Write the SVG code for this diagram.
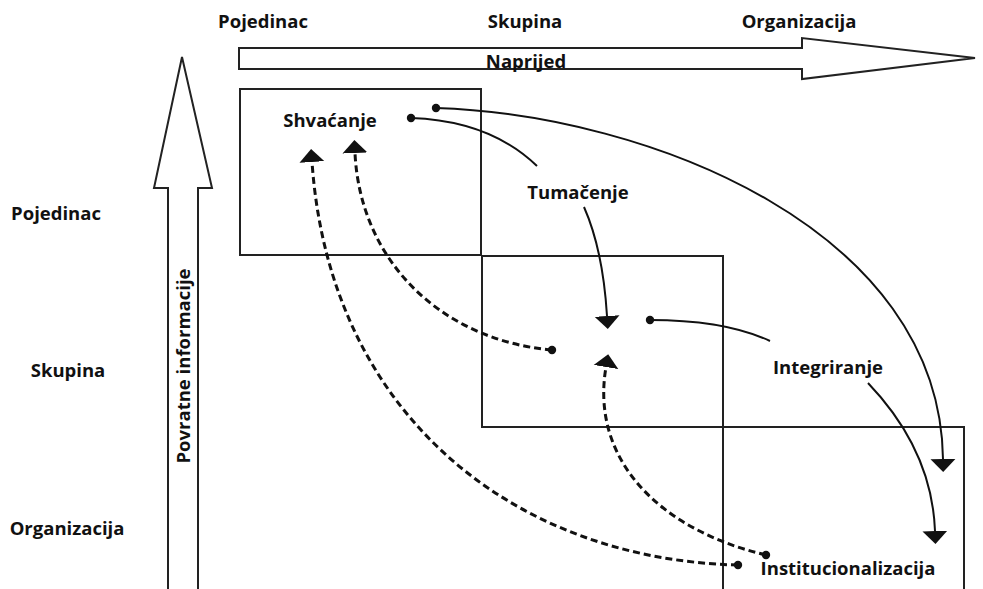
<svg xmlns="http://www.w3.org/2000/svg" width="983" height="589" viewBox="0 0 983 589">
<style>
text{font-family:"Open Sans","Liberation Sans",sans-serif;font-weight:bold;font-size:18.5px;fill:#111}
.box{fill:none;stroke:#222;stroke-width:2}
.big{fill:#fff;stroke:#222;stroke-width:2;stroke-linejoin:miter}
.solid{fill:none;stroke:#111;stroke-width:2}
.dash{fill:none;stroke:#111;stroke-width:3;stroke-dasharray:7 4}
</style>
<defs>
<marker id="arrow" markerUnits="userSpaceOnUse" viewBox="0 -13 14 26" markerWidth="14" markerHeight="26" refX="0" refY="0" orient="auto">
<path d="M0,-12.5 L13,0 L0,12.5 z" fill="#111"/>
</marker>
<marker id="dot" markerUnits="userSpaceOnUse" viewBox="-5 -5 10 10" markerWidth="10" markerHeight="10" refX="0" refY="0">
<circle r="4.2" fill="#111"/>
</marker>
</defs>
<rect width="983" height="589" fill="#fff"/>
<g id="axis-top">
<polygon class="big" points="239,48 802,48 802,38 975,58 802,79 802,69 239,69"/>
<text x="526" y="68" text-anchor="middle">Naprijed</text>
<text x="263" y="28" text-anchor="middle">Pojedinac</text>
<text x="525" y="28" text-anchor="middle">Skupina</text>
<text x="799" y="28" text-anchor="middle">Organizacija</text>
</g>
<g id="axis-left">
<polygon class="big" points="182,57 212,188 198,188 198,600 168,600 168,188 154,188"/>
<text transform="translate(190,366) rotate(-90)" text-anchor="middle">Povratne informacije</text>
<text x="56" y="220" text-anchor="middle">Pojedinac</text>
<text x="68" y="377" text-anchor="middle">Skupina</text>
<text x="67" y="535" text-anchor="middle">Organizacija</text>
</g>
<g id="box-individual"><rect class="box" x="240" y="89" width="241" height="166"/></g>
<g id="box-group"><rect class="box" x="482" y="256" width="241" height="171"/></g>
<g id="box-organization"><rect class="box" x="723" y="427" width="241" height="180"/></g>
<g id="node-shvacanje"><text x="330" y="127" text-anchor="middle">Shvaćanje</text></g>
<g id="node-tumacenje"><text x="578" y="199" text-anchor="middle">Tumačenje</text></g>
<g id="node-integriranje"><text x="828" y="374" text-anchor="middle">Integriranje</text></g>
<g id="node-institucionalizacija"><text x="848" y="575" text-anchor="middle">Institucionalizacija</text></g>
<g id="connectors">
<path class="solid" marker-start="url(#dot)" d="M411,118 C470,120 510,140 537,166"/>
<path class="solid" marker-end="url(#arrow)" d="M584,207 Q603,250 607,316"/>
<path class="solid" marker-start="url(#dot)" marker-end="url(#arrow)" d="M436,108 C650,115 940,230 943,459"/>
<path class="solid" marker-start="url(#dot)" d="M650,320 Q725,320 770,341"/>
<path class="solid" marker-end="url(#arrow)" d="M868,383 Q932,450 935,531"/>
<path class="dash" marker-start="url(#dot)" marker-end="url(#arrow)" d="M552,350 C440,340 360,260 355,153"/>
<path class="dash" marker-start="url(#dot)" marker-end="url(#arrow)" d="M738,565 C520,560 330,420 312,162"/>
<path class="dash" marker-start="url(#dot)" marker-end="url(#arrow)" d="M766,555 C660,530 590,460 606,367"/>
</g>
</svg>
